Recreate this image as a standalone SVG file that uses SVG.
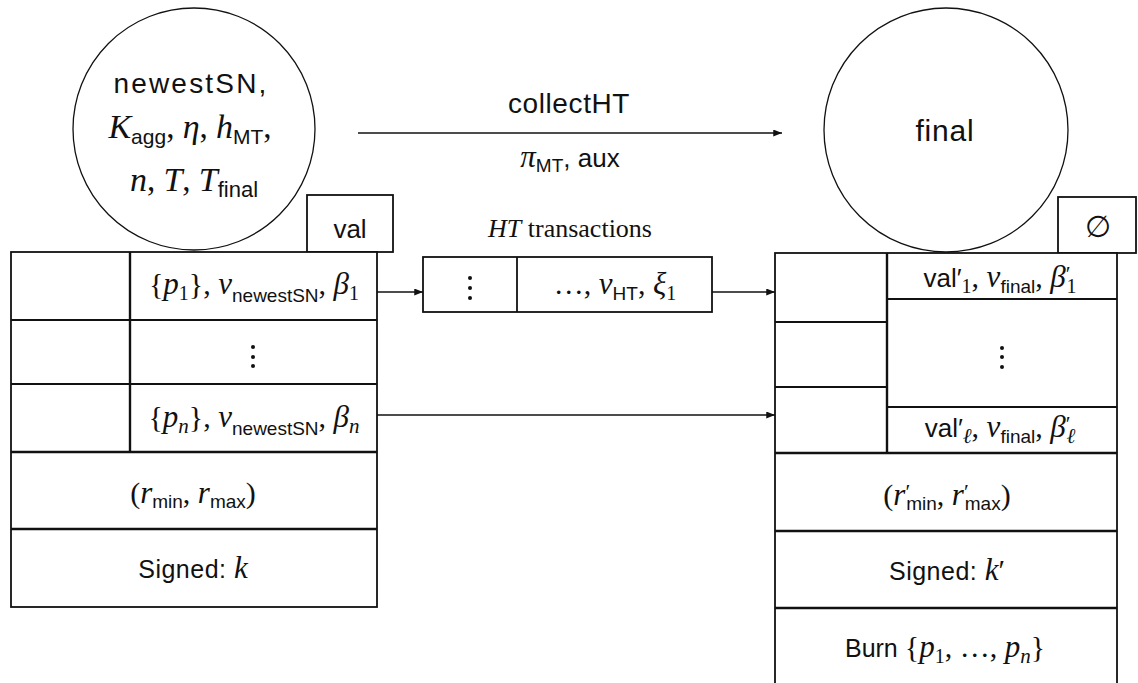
<svg xmlns="http://www.w3.org/2000/svg" width="1138" height="683" viewBox="0 0 1138 683">
  <style>
    .box { fill: #fff; stroke: #111; stroke-width: 1.8; }
    .ln { stroke: #111; stroke-width: 1.8; fill: none; }
    .thick { stroke-width: 2.4; }
    .circ { fill: #fff; stroke: #111; stroke-width: 1.3; }
    .arr { stroke: #111; stroke-width: 1.4; fill: none; marker-end: url(#ah); }
    text { fill: #111; }
    .sans { font-family: "Liberation Sans", Arial, sans-serif; font-size: 26px; }
    .m { font-family: "Liberation Serif", "DejaVu Serif", serif; font-style: italic; font-size: 31px; }
    .r { font-family: "Liberation Serif", "DejaVu Serif", serif; font-style: normal; font-size: 30px; }
    .d { font-family: "Liberation Serif", "DejaVu Serif", serif; font-style: normal; font-size: 20px; }
    .mi { font-family: "Liberation Serif", "DejaVu Serif", serif; font-style: italic; font-size: 21px; }
    .pr { font-family: "Liberation Serif", "DejaVu Serif", serif; font-style: normal; font-size: 22px; }
    .sub { font-family: "Liberation Sans", Arial, sans-serif; font-style: normal; font-size: 19px; }
    .big .m { font-size: 34px; }
    .big .r { font-size: 33px; }
    .big .sub { font-size: 21px; }
    .dot { fill: #111; }
  </style>
  <defs>
    <marker id="ah" viewBox="0 0 10 8" refX="10" refY="4" markerWidth="9" markerHeight="7" markerUnits="userSpaceOnUse" orient="auto">
      <path d="M0,0 L10,4 L0,8 z" fill="#111"/>
    </marker>
  </defs>

  <!-- connectors -->
  <g id="connectors">
    <line class="arr" x1="358" y1="133" x2="782" y2="133"/>
    <line class="arr" x1="377" y1="292" x2="423" y2="292"/>
    <line class="arr" x1="712" y1="292" x2="775" y2="292"/>
    <line class="arr" x1="377" y1="415" x2="775" y2="415"/>
    <text class="sans" x="569" y="113" text-anchor="middle" style="font-size:28px;letter-spacing:0.6px">collectHT</text>
    <text x="570" y="167" text-anchor="middle"><tspan class="m">π</tspan><tspan class="sub" dy="5">MT</tspan><tspan class="sans" dy="-5">, aux</tspan></text>
  </g>

  <!-- left state: circle, value tag and output table -->
  <g id="state-left">
    <circle class="circ" cx="194" cy="129" r="121"/>
    <text class="sans" x="191" y="93" text-anchor="middle" style="font-size:28px;letter-spacing:2.2px">newestSN,</text>
    <text class="big" x="190" y="138" text-anchor="middle"><tspan class="m">K</tspan><tspan class="sub" dy="6">agg</tspan><tspan class="r" dy="-6">, </tspan><tspan class="m">η</tspan><tspan class="r">, </tspan><tspan class="m">h</tspan><tspan class="sub" dy="6">MT</tspan><tspan class="r" dy="-6">,</tspan></text>
    <text class="big" x="194" y="191" text-anchor="middle"><tspan class="m">n</tspan><tspan class="r">, </tspan><tspan class="m">T</tspan><tspan class="r">, </tspan><tspan class="m">T</tspan><tspan class="sub" dy="6" style="font-size:22px">final</tspan></text>
  </g>

  <g id="tag-val">
    <rect class="box" x="307" y="195" width="86" height="57"/>
    <text class="sans" x="350" y="238" text-anchor="middle">val</text>
  </g>

  <g id="table-left">
    <rect class="box" x="11" y="252" width="366" height="355"/>
    <line class="ln thick" x1="130" y1="252" x2="130" y2="452"/>
    <line class="ln" x1="11" y1="320" x2="377" y2="320"/>
    <line class="ln" x1="11" y1="384" x2="377" y2="384"/>
    <line class="ln thick" x1="11" y1="452" x2="377" y2="452"/>
    <line class="ln thick" x1="11" y1="529" x2="377" y2="529"/>
    <text x="254" y="294" text-anchor="middle"><tspan class="r">{</tspan><tspan class="m">p</tspan><tspan class="d" dy="6">1</tspan><tspan class="r" dy="-6">}, </tspan><tspan class="m">ν</tspan><tspan class="sub" dy="8">newestSN</tspan><tspan class="r" dy="-8">, </tspan><tspan class="m">β</tspan><tspan class="d" dy="6">1</tspan></text>
    <circle class="dot" cx="253" cy="347" r="2"/>
    <circle class="dot" cx="253" cy="357" r="2"/>
    <circle class="dot" cx="253" cy="366" r="2"/>
    <text x="254" y="427" text-anchor="middle"><tspan class="r">{</tspan><tspan class="m">p</tspan><tspan class="mi" dy="6">n</tspan><tspan class="r" dy="-6">}, </tspan><tspan class="m">ν</tspan><tspan class="sub" dy="8">newestSN</tspan><tspan class="r" dy="-8">, </tspan><tspan class="m">β</tspan><tspan class="mi" dy="6">n</tspan></text>
    <text x="193" y="503" text-anchor="middle"><tspan class="r">(</tspan><tspan class="m">r</tspan><tspan class="sub" dy="5">min</tspan><tspan class="r" dy="-5">, </tspan><tspan class="m">r</tspan><tspan class="sub" dy="5">max</tspan><tspan class="r" dy="-5">)</tspan></text>
    <text x="193" y="578" text-anchor="middle"><tspan class="sans" style="font-size:25px;letter-spacing:0.5px">Signed: </tspan><tspan class="m">k</tspan></text>
  </g>

  <!-- hard transactions buffer -->
  <g id="ht-buffer">
    <text x="570" y="237" text-anchor="middle"><tspan class="m" style="font-size:26px">HT</tspan><tspan class="r" style="font-size:26px"> transactions</tspan></text>
    <rect class="box" x="423" y="257" width="289" height="55"/>
    <line class="ln" x1="517" y1="257" x2="517" y2="312"/>
    <circle class="dot" cx="470" cy="278" r="2"/>
    <circle class="dot" cx="470" cy="288" r="2"/>
    <circle class="dot" cx="470" cy="298" r="2"/>
    <text x="615" y="294" text-anchor="middle"><tspan class="r">…, </tspan><tspan class="m">ν</tspan><tspan class="sub" dy="6">HT</tspan><tspan class="r" dy="-6">, </tspan><tspan class="m">ξ</tspan><tspan class="d" dy="6">1</tspan></text>
  </g>

  <!-- right state: circle, empty tag and output table -->
  <g id="state-final">
    <circle class="circ" cx="946" cy="130" r="122"/>
    <text class="sans" x="945" y="141" text-anchor="middle" style="font-size:30px;letter-spacing:0.8px">final</text>
  </g>

  <g id="tag-empty">
    <rect class="box" x="1058" y="197" width="78" height="56"/>
    <text x="1098" y="237" text-anchor="middle" style="font-family:'DejaVu Sans',sans-serif;font-size:30px">∅</text>
  </g>

  <g id="table-right">
    <rect class="box" x="775" y="253" width="342" height="440"/>
    <line class="ln thick" x1="887" y1="253" x2="887" y2="453"/>
    <line class="ln" x1="775" y1="322" x2="887" y2="322"/>
    <line class="ln" x1="775" y1="387" x2="887" y2="387"/>
    <line class="ln" x1="887" y1="299" x2="1117" y2="299"/>
    <line class="ln" x1="887" y1="407" x2="1117" y2="407"/>
    <line class="ln thick" x1="775" y1="453" x2="1117" y2="453"/>
    <line class="ln thick" x1="775" y1="531" x2="1117" y2="531"/>
    <line class="ln thick" x1="775" y1="608" x2="1117" y2="608"/>
    <text x="1000" y="287" text-anchor="middle"><tspan class="sans">val′</tspan><tspan class="d" dy="6">1</tspan><tspan class="r" dy="-6">, </tspan><tspan class="m">ν</tspan><tspan class="sub" dy="6">final</tspan><tspan class="r" dy="-6">, </tspan><tspan class="m">β</tspan><tspan class="pr" dy="-6">′</tspan><tspan class="d" dx="-4" dy="12">1</tspan></text>
    <circle class="dot" cx="1002" cy="348" r="2"/>
    <circle class="dot" cx="1002" cy="357" r="2"/>
    <circle class="dot" cx="1002" cy="367" r="2"/>
    <text x="1000" y="437" text-anchor="middle"><tspan class="sans">val′</tspan><tspan class="mi" dy="6">ℓ</tspan><tspan class="r" dy="-6">, </tspan><tspan class="m">ν</tspan><tspan class="sub" dy="6">final</tspan><tspan class="r" dy="-6">, </tspan><tspan class="m">β</tspan><tspan class="pr" dy="-6">′</tspan><tspan class="mi" dx="-4" dy="12">ℓ</tspan></text>
    <text x="947" y="505" text-anchor="middle"><tspan class="r">(</tspan><tspan class="m">r</tspan><tspan class="pr" dy="-6">′</tspan><tspan class="sub" dx="-4" dy="11">min</tspan><tspan class="r" dy="-5">, </tspan><tspan class="m">r</tspan><tspan class="pr" dy="-6">′</tspan><tspan class="sub" dx="-4" dy="11">max</tspan><tspan class="r" dy="-5">)</tspan></text>
    <text x="947" y="580" text-anchor="middle"><tspan class="sans" style="font-size:25px;letter-spacing:0.5px">Signed: </tspan><tspan class="m">k</tspan><tspan class="r">′</tspan></text>
    <text x="945" y="657" text-anchor="middle"><tspan class="sans" style="font-size:25px">Burn </tspan><tspan class="r">{</tspan><tspan class="m">p</tspan><tspan class="d" dy="6">1</tspan><tspan class="r" dy="-6">, …, </tspan><tspan class="m">p</tspan><tspan class="mi" dy="6">n</tspan><tspan class="r" dy="-6">}</tspan></text>
  </g>
</svg>
